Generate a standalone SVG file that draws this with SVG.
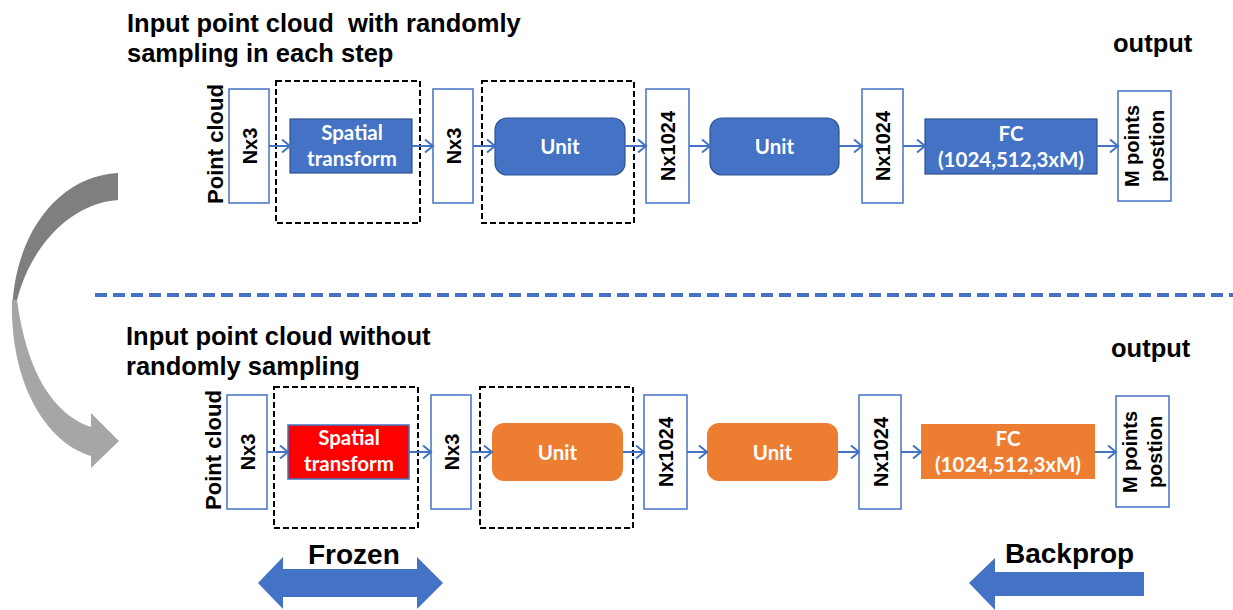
<svg xmlns="http://www.w3.org/2000/svg" width="1233" height="610" viewBox="0 0 1233 610">
<style>
.ttl{font-family:"Liberation Sans",Arial,sans-serif;font-weight:bold;font-size:25.5px;fill:#000}
.lbl{font-family:"Liberation Sans",Arial,sans-serif;font-weight:bold;font-size:20px;fill:#000}
.pc{font-family:"Liberation Sans",Arial,sans-serif;font-weight:bold;font-size:22px;fill:#000}
.big{font-family:"Liberation Sans",Arial,sans-serif;font-weight:bold;font-size:28px;fill:#000}
.in{font-family:Lato,"Open Sans",sans-serif;font-weight:bold;font-size:20.5px;fill:#fff}
.tb{fill:#fff;stroke:#4472C4;stroke-width:1.5}
.dash{fill:none;stroke:#000;stroke-width:2;stroke-dasharray:6,3}
.blue{fill:#4472C4;stroke:#2F528F;stroke-width:1.2}
.orng{fill:#ED7D31}
.con line{stroke:#4472C4;stroke-width:2;marker-end:url(#ah)}
</style>
<defs>
<marker id="ah" markerUnits="userSpaceOnUse" markerWidth="12" markerHeight="16" refX="10" refY="8" orient="auto">
<path d="M2,1.5 L10,8 L2,14.5" fill="none" stroke="#4472C4" stroke-width="2"/>
</marker>
</defs>

<g id="curved-arrow">
<path d="M118,173 C58,176 12,235 12,318 L14,318 C20,262 62,204 118,200 Z" fill="#7F7F7F"/>
<path d="M12,300 C10,382 45,442 91,456 L91,468 L119,441 L91,413 L91,427 C55,415 27,375 17,300 Z" fill="#A6A6A6"/>
</g>

<line id="separator" x1="95" y1="295" x2="1233" y2="295" stroke="#4472C4" stroke-width="4" stroke-dasharray="12,6"/>

<g id="titles">
<text class="ttl" x="127" y="32" xml:space="preserve">Input point cloud  with randomly</text>
<text class="ttl" x="127" y="62">sampling in each step</text>
<text class="ttl" x="1113" y="52">output</text>
<text class="ttl" x="126" y="345">Input point cloud without</text>
<text class="ttl" x="126" y="375">randomly sampling</text>
<text class="ttl" x="1111" y="357">output</text>
</g>

<!-- top row -->
<g id="t-pc"><text class="pc" text-anchor="middle" transform="translate(223,144) rotate(-90)">Point cloud</text></g>
<g id="t-nx3a"><rect class="tb" x="229" y="89" width="40" height="114"/><text class="lbl" text-anchor="middle" transform="translate(257,146) rotate(-90)">Nx3</text></g>
<g id="t-dash1"><rect class="dash" x="276" y="81" width="144" height="142"/></g>
<g id="t-st"><rect class="blue" x="290" y="119" width="122" height="54"/><text class="in" text-anchor="middle" x="352" y="140">Spatial</text><text class="in" text-anchor="middle" x="352" y="166">transform</text></g>
<g id="t-nx3b"><rect class="tb" x="433" y="89" width="40" height="114"/><text class="lbl" text-anchor="middle" transform="translate(461,146) rotate(-90)">Nx3</text></g>
<g id="t-dash2"><rect class="dash" x="482" y="81" width="152" height="142"/></g>
<g id="t-unit1"><rect class="blue" x="495" y="118" width="130" height="57" rx="12"/><text class="in" text-anchor="middle" x="560" y="154">Unit</text></g>
<g id="t-nx1024a"><rect class="tb" x="646" y="89" width="43" height="114"/><text class="lbl" text-anchor="middle" transform="translate(675,146) rotate(-90)">Nx1024</text></g>
<g id="t-unit2"><rect class="blue" x="710" y="118" width="129" height="57" rx="12"/><text class="in" text-anchor="middle" x="774.5" y="154">Unit</text></g>
<g id="t-nx1024b"><rect class="tb" x="862" y="89" width="41" height="114"/><text class="lbl" text-anchor="middle" transform="translate(890,146) rotate(-90)">Nx1024</text></g>
<g id="t-fc"><rect class="blue" x="925" y="119" width="172" height="55"/><text class="in" text-anchor="middle" x="1011" y="141">FC</text><text class="in" text-anchor="middle" x="1011" y="167">(1024,512,3xM)</text></g>
<g id="t-out"><rect class="tb" x="1118" y="91" width="53" height="110"/><text class="lbl" text-anchor="middle" transform="translate(1139,146) rotate(-90)">M points</text><text class="lbl" text-anchor="middle" transform="translate(1164,146) rotate(-90)">postion</text></g>

<!-- bottom row -->
<g id="b-pc"><text class="pc" text-anchor="middle" transform="translate(221,450) rotate(-90)">Point cloud</text></g>
<g id="b-nx3a"><rect class="tb" x="227" y="395" width="40" height="114"/><text class="lbl" text-anchor="middle" transform="translate(255,452) rotate(-90)">Nx3</text></g>
<g id="b-dash1"><rect class="dash" x="274" y="387" width="144" height="141"/></g>
<g id="b-st"><rect x="288" y="425" width="121" height="54" fill="#FF0000" stroke="#4472C4" stroke-width="1.5"/><text class="in" text-anchor="middle" x="349" y="445">Spatial</text><text class="in" text-anchor="middle" x="349" y="471">transform</text></g>
<g id="b-nx3b"><rect class="tb" x="431" y="395" width="40" height="114"/><text class="lbl" text-anchor="middle" transform="translate(459,452) rotate(-90)">Nx3</text></g>
<g id="b-dash2"><rect class="dash" x="480" y="387" width="153" height="141"/></g>
<g id="b-unit1"><rect class="orng" x="492" y="423" width="131" height="58" rx="12"/><text class="in" text-anchor="middle" x="557.5" y="460">Unit</text></g>
<g id="b-nx1024a"><rect class="tb" x="644" y="395" width="43" height="114"/><text class="lbl" text-anchor="middle" transform="translate(673,452) rotate(-90)">Nx1024</text></g>
<g id="b-unit2"><rect class="orng" x="707" y="423" width="131" height="58" rx="12"/><text class="in" text-anchor="middle" x="772.5" y="460">Unit</text></g>
<g id="b-nx1024b"><rect class="tb" x="859" y="395" width="42" height="114"/><text class="lbl" text-anchor="middle" transform="translate(888,452) rotate(-90)">Nx1024</text></g>
<g id="b-fc"><rect class="orng" x="921" y="424" width="174" height="55"/><text class="in" text-anchor="middle" x="1008" y="446">FC</text><text class="in" text-anchor="middle" x="1008" y="472">(1024,512,3xM)</text></g>
<g id="b-out"><rect class="tb" x="1116" y="396" width="53" height="111"/><text class="lbl" text-anchor="middle" transform="translate(1137,452) rotate(-90)">M points</text><text class="lbl" text-anchor="middle" transform="translate(1162,452) rotate(-90)">postion</text></g>

<g id="connectors" class="con">
<line x1="269" y1="146" x2="290" y2="146"/>
<line x1="412" y1="146" x2="433" y2="146"/>
<line x1="473" y1="146" x2="495" y2="146"/>
<line x1="625" y1="146" x2="646" y2="146"/>
<line x1="689" y1="146" x2="710" y2="146"/>
<line x1="839" y1="146" x2="862" y2="146"/>
<line x1="903" y1="146" x2="925" y2="146"/>
<line x1="1097" y1="146" x2="1118" y2="146"/>
<line x1="267" y1="452" x2="288" y2="452"/>
<line x1="409" y1="452" x2="431" y2="452"/>
<line x1="471" y1="452" x2="492" y2="452"/>
<line x1="623" y1="452" x2="644" y2="452"/>
<line x1="687" y1="452" x2="707" y2="452"/>
<line x1="838" y1="452" x2="859" y2="452"/>
<line x1="901" y1="452" x2="921" y2="452"/>
<line x1="1095" y1="452" x2="1116" y2="452"/>
</g>

<g id="frozen">
<path d="M258,583 L283,557 L283,569 L417,569 L417,557 L443,583 L417,609 L417,597 L283,597 L283,609 Z" fill="#4472C4"/>
<text class="big" x="308" y="564">Frozen</text>
</g>
<g id="backprop">
<path d="M969,583 L995,558 L995,572 L1144,572 L1144,596 L995,596 L995,610 Z" fill="#4472C4"/>
<text class="big" x="1005" y="563">Backprop</text>
</g>
</svg>
